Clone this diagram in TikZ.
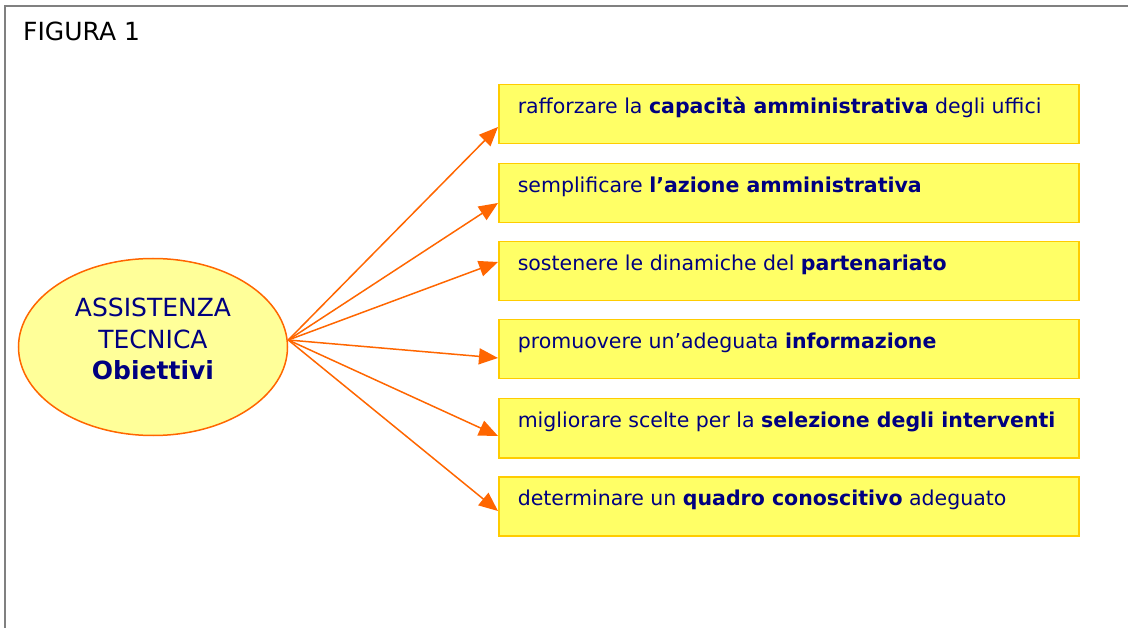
\documentclass[tikz,border=0pt]{standalone}
\usepackage{fontspec}
\setmainfont{DejaVu Sans}
\usetikzlibrary{shapes.geometric,arrows.meta}
\definecolor{blunotte}{HTML}{000080}
\definecolor{arancio}{HTML}{FF6600}
\definecolor{giallo}{HTML}{FFFF66}
\definecolor{oro}{HTML}{FFCC00}
\definecolor{crema}{HTML}{FFFF99}
\tikzset{
  obiettivo/.style={draw=oro, fill=giallo, line width=1.5pt, anchor=north west,
    inner xsep=19pt, inner ysep=0pt, text width=542pt, align=flush left,
    text height=29pt, text depth=30pt, text=blunotte,
    font=\fontsize{20.5}{24}\selectfont},
  freccia/.style={arancio, line width=1.5pt, -{Triangle[length=19pt,width=16pt]}}
}
\begin{document}
\begin{tikzpicture}[x=1pt, y=1pt]
  \useasboundingbox (0,0) rectangle (1128,-628);
  \draw[gray, line width=1.5pt] (5,-628) -- (5,-6) -- (1128,-6);
  \node[anchor=base west, inner sep=0pt, font=\fontsize{25}{29}\selectfont] (titolo) at (23,-41) {FIGURA 1};
  \node[ellipse, draw=arancio, fill=crema, line width=1.5pt, inner sep=0pt,
    minimum width=269pt, minimum height=177pt, align=center, text=blunotte,
    text depth=16pt, font=\fontsize{25}{31.5}\selectfont]
    (centro) at (153,-347) {ASSISTENZA\\TECNICA\\\textbf{Obiettivi}};
  \node[obiettivo] (ob1) at (498,-84) {rafforzare la \textbf{capacità amministrativa} degli uffici};
  \node[obiettivo] (ob2) at (498,-163) {semplificare \textbf{l’azione amministrativa}};
  \node[obiettivo] (ob3) at (498,-241) {sostenere le dinamiche del \textbf{partenariato}};
  \node[obiettivo] (ob4) at (498,-319) {promuovere un’adeguata \textbf{informazione}};
  \node[obiettivo] (ob5) at (498,-398) {migliorare scelte per la \textbf{selezione degli interventi}};
  \node[obiettivo] (ob6) at (498,-476) {determinare un \textbf{quadro conoscitivo} adeguato};
  \draw[freccia] ([yshift=7pt]centro.east) -- ([yshift=-43pt]ob1.north west);
  \draw[freccia] ([yshift=7pt]centro.east) -- ([yshift=-40pt]ob2.north west);
  \draw[freccia] ([yshift=7pt]centro.east) -- ([yshift=-21pt]ob3.north west);
  \draw[freccia] ([yshift=7pt]centro.east) -- ([yshift=-39pt]ob4.north west);
  \draw[freccia] ([yshift=7pt]centro.east) -- ([yshift=-38pt]ob5.north west);
  \draw[freccia] ([yshift=7pt]centro.east) -- ([yshift=-35pt]ob6.north west);
\end{tikzpicture}
\end{document}
